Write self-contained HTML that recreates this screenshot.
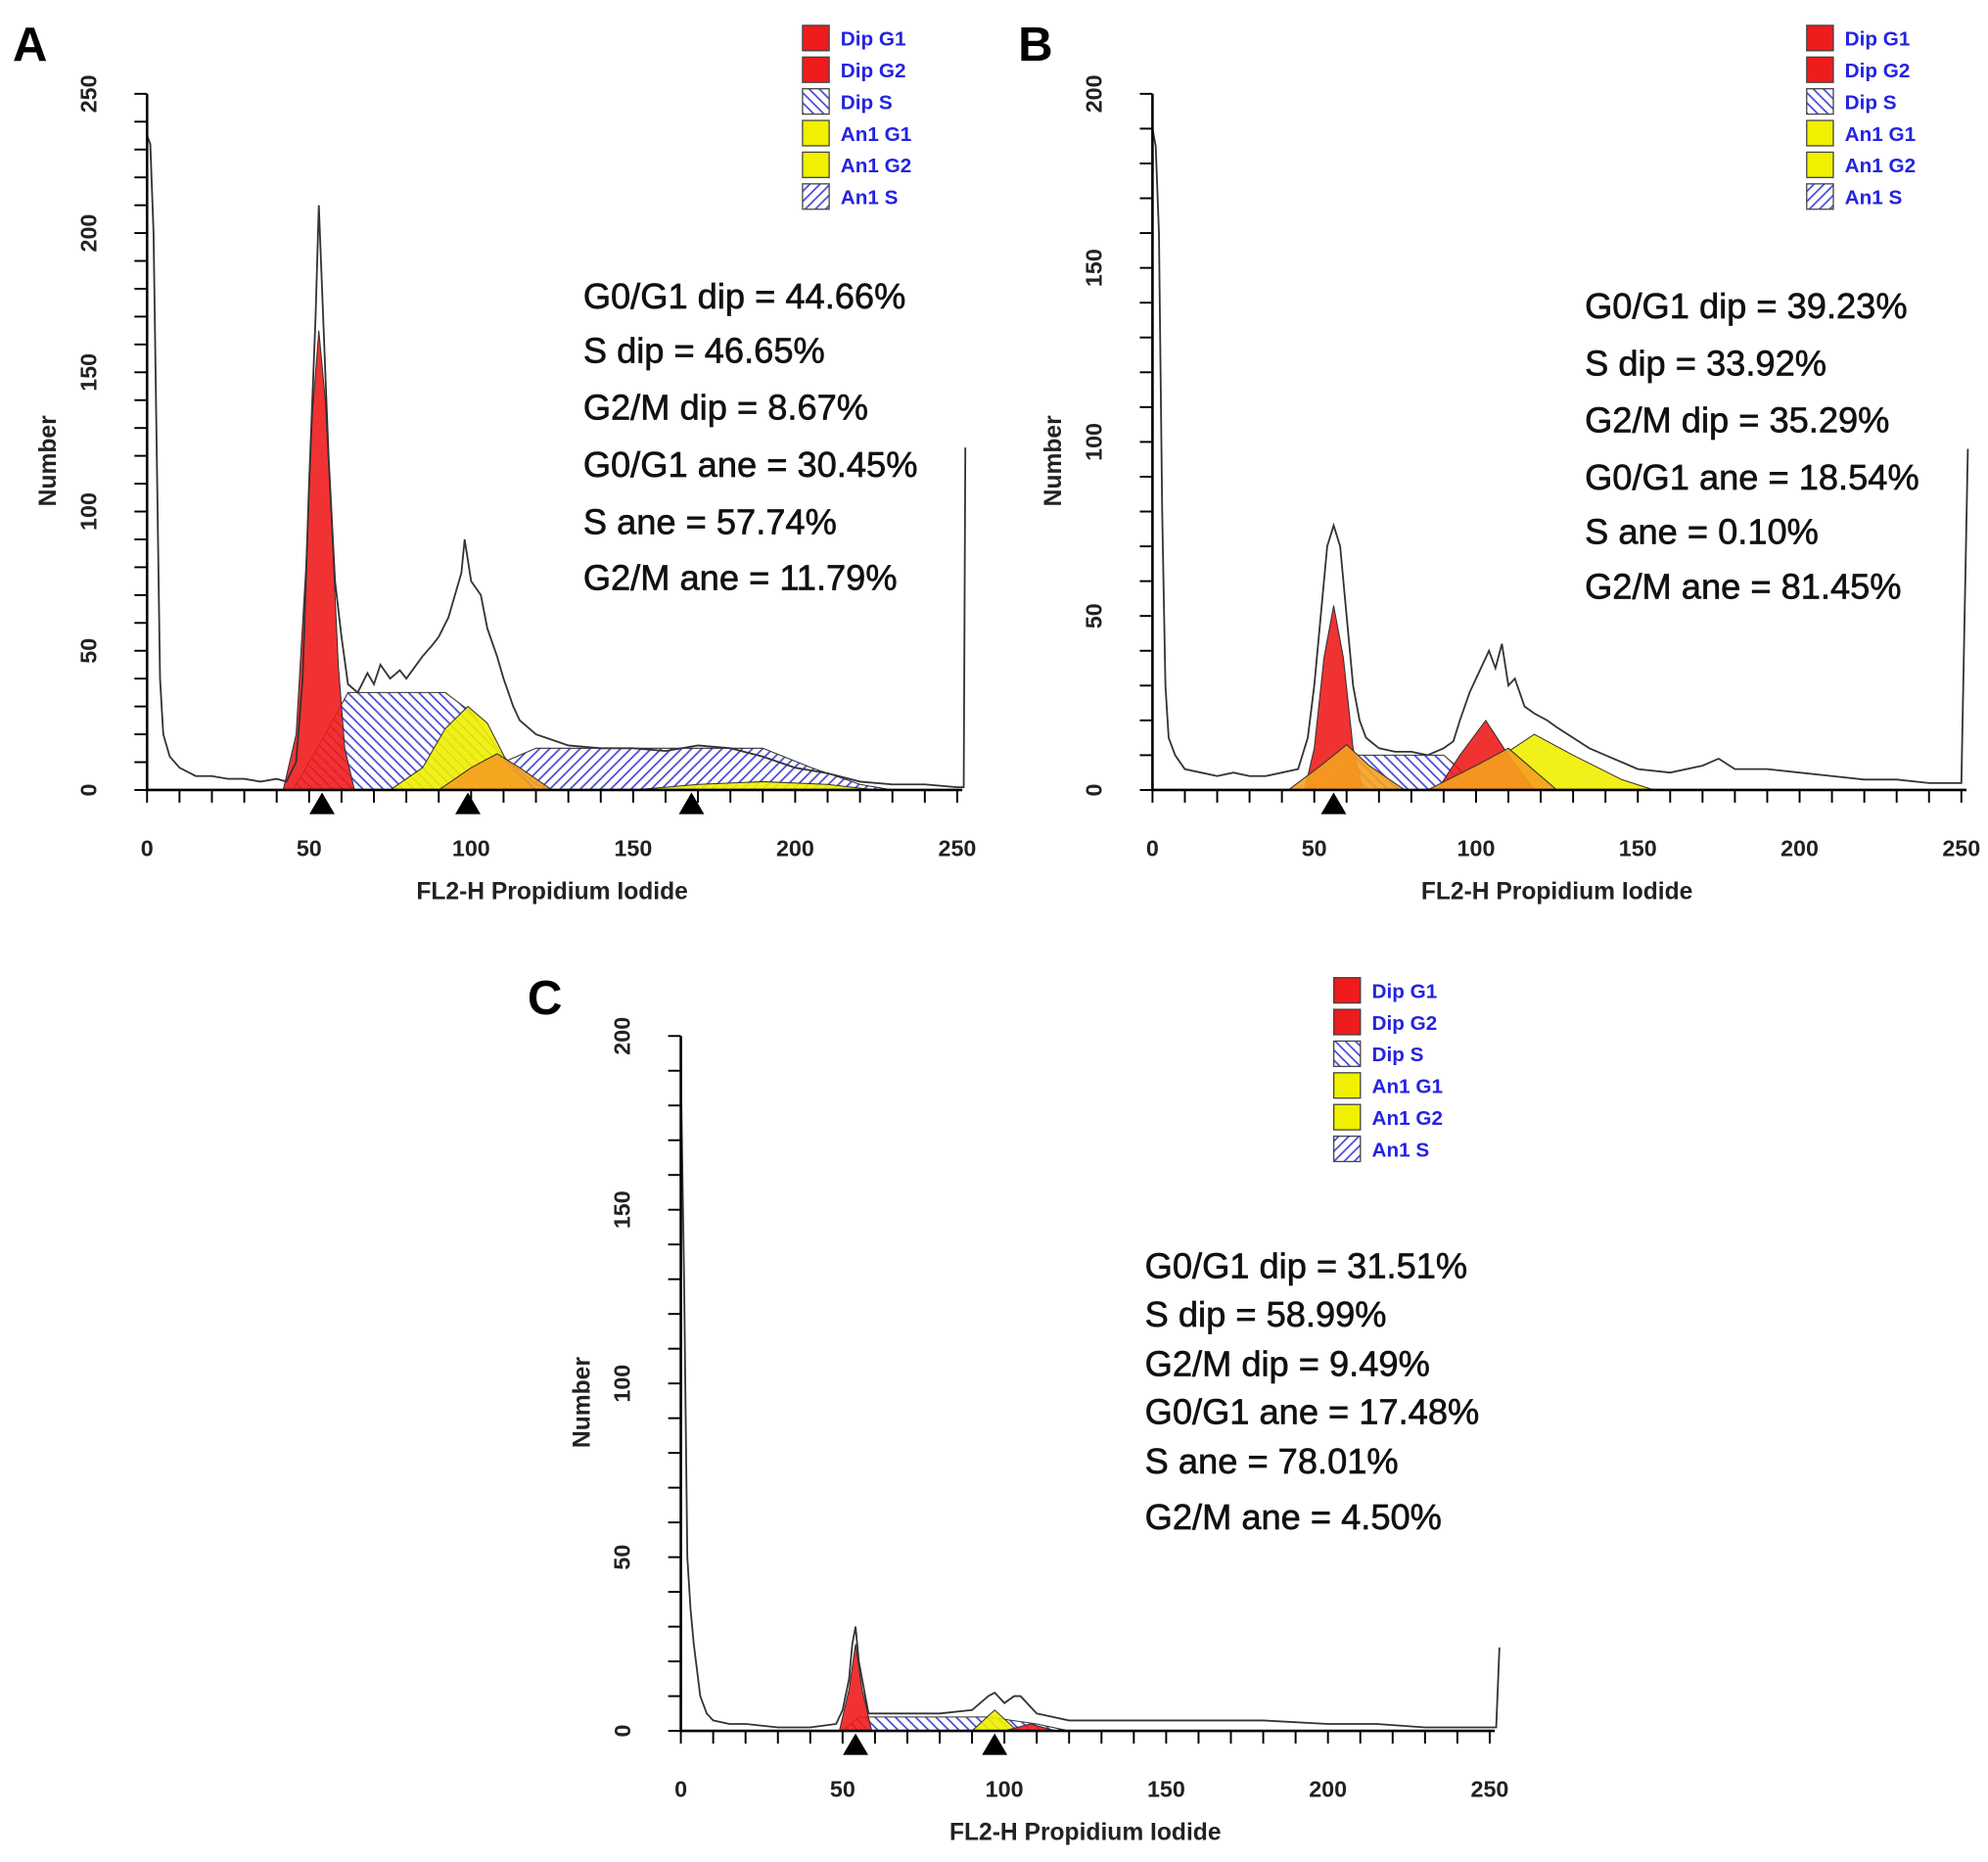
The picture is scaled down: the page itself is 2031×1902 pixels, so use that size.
<!DOCTYPE html>
<html><head><meta charset="utf-8">
<style>
html,body{margin:0;padding:0;background:#fff;}
svg{display:block;}
text{font-family:"Liberation Sans",sans-serif;}
</style></head>
<body>
<svg id="fig" width="2031" height="1902" viewBox="0 0 1568 1468.4" preserveAspectRatio="none" xmlns="http://www.w3.org/2000/svg">
<defs>
<pattern id="hatchBack" patternUnits="userSpaceOnUse" width="8" height="8">
<rect width="8" height="8" fill="#fff"/><path d="M-2,-2 L10,10 M-2,6 L2,10 M6,-2 L10,2" stroke="#4848d8" stroke-width="1.3"/></pattern>
<pattern id="hatchFwd" patternUnits="userSpaceOnUse" width="8" height="8">
<rect width="8" height="8" fill="#fff"/><path d="M-2,10 L10,-2 M-2,2 L2,-2 M6,10 L10,6" stroke="#4848d8" stroke-width="1.3"/></pattern>
</defs>
</svg>
<script>
// ---------- Panel A data ----------
const aChannels = [0,1,2,3,4,5,7,10,15,20,25,30,35,40,43,46,48,50,52,53,54,56,58,60,62,65,68,70,72,75,78,80,85,88,90,93,95,97,98,100,103,105,108,110,113,115,120,125,130,140,150,160,170,180,190,200,210,220,230,240,250,252,252.5];
const aCounts   = [235,232,200,120,40,20,12,8,5,5,4,4,3,4,3,10,40,110,170,210,180,120,75,55,38,35,42,38,45,40,43,40,48,52,55,62,70,78,90,75,70,58,48,40,30,25,20,18,16,15,15,14,16,15,12,8,6,3,2,2,1,1,123];
const aComponents = [
 {name:'an1-s',   fill:'url(#hatchFwd)', ch:[95,110,120,190,205,220,230], v:[0,10,15,15,8,2,0]},
 {name:'dip-s',   fill:'url(#hatchBack)', ch:[45,55,62,92,100,110,120,125], v:[0,20,35,35,28,12,2,0]},
 {name:'an1-g2',  fill:'#f0f000', ch:[150,170,190,210,225], v:[0,2,3,2,0]},
 {name:'an1-g1',  fill:'#f0f000', ch:[75,85,92,99,105,112,120], v:[0,8,22,30,24,8,0]},
 {name:'dip-g2',  fill:'#f5a020', ch:[90,100,108,115,125], v:[0,8,13,8,0]},
 {name:'dip-g1',  fill:'#ee1c1c', ch:[42,46,49,51,53,55,57,59,61,64], v:[0,20,80,135,165,140,95,45,15,0]}
];
const aMarkers = [54,99,168];
const aYTicks = [0,50,100,150,200,250];
const aStats = ['G0/G1 dip = 44.66%','S dip =  46.65%','G2/M dip = 8.67%','G0/G1 ane =  30.45%','S ane = 57.74%','G2/M ane =  11.79%'];

// ---------- Panel B data ----------
const bChannels = [0,1,2,3,4,5,7,10,15,20,25,30,35,40,45,48,50,52,54,56,58,60,62,64,66,70,75,80,85,90,93,95,98,100,102,104,106,108,110,112,115,118,122,125,130,135,140,145,150,160,170,175,180,190,200,210,220,230,240,250,252];
const bCounts   = [190,185,160,80,30,15,10,6,5,4,5,4,4,5,6,15,30,50,70,76,70,50,30,20,15,12,11,11,10,12,14,20,28,32,36,40,35,42,30,32,24,22,20,18,15,12,10,8,6,5,7,9,6,6,5,4,3,3,2,2,98];
const bComponents = [
 {name:'dip-s',   fill:'url(#hatchBack)', ch:[55,62,90,95,100], v:[0,10,10,6,0]},
 {name:'an1-g2',  fill:'#f0f000', ch:[95,105,118,130,145,155], v:[0,8,16,10,3,0]},
 {name:'dip-g2',  fill:'#ee1c1c', ch:[88,95,103,110,118], v:[0,10,20,10,0]},
 {name:'an1-g2-overlap', fill:'#f5a020', ch:[85,100,110,125], v:[0,7,12,0]},
 {name:'dip-g1',  fill:'#ee1c1c', ch:[47,50,53,56,59,62,65], v:[0,12,38,53,38,12,0]},
 {name:'an1-g1',  fill:'#f5a020', ch:[42,52,60,67,78], v:[0,7,13,7,0]}
];
const bMarkers = [56];
const bYTicks = [0,50,100,150,200];
const bStats = ['G0/G1 dip = 39.23%','S dip =  33.92%','G2/M dip = 35.29%','G0/G1 ane =  18.54%','S ane = 0.10%','G2/M ane = 81.45%'];

// ---------- Panel C data ----------
const cChannels = [0,1,2,3,4,6,8,10,15,20,30,40,48,50,52,53,54,55,56,58,60,70,80,90,95,97,100,103,105,108,110,115,120,130,150,165,180,200,215,230,250,252,253];
const cCounts   = [190,130,50,35,25,10,5,3,2,2,1,1,2,6,15,25,30,20,15,5,5,5,5,6,10,11,8,10,10,7,5,4,3,3,3,3,3,2,2,1,1,1,24];
const cComponents = [
 {name:'dip-s',   fill:'url(#hatchBack)', ch:[50,55,95,110,120], v:[0,4,4,2,0]},
 {name:'an1-g1',  fill:'#f0f000', ch:[90,97,104], v:[0,6,0]},
 {name:'dip-g2',  fill:'#ee1c1c', ch:[100,108,116], v:[0,2,0]},
 {name:'dip-g1',  fill:'#ee1c1c', ch:[49,52,54,56,59], v:[0,12,25,12,0]}
];
const cMarkers = [54,97];
const cYTicks = [0,50,100,150,200];
const cStats = ['G0/G1 dip = 31.51%','S dip =  58.99%','G2/M dip = 9.49%','G0/G1 ane =  17.48%','S ane = 78.01%','G2/M ane =  4.50%'];

const xTicks = [0,50,100,150,200,250];
const legendLabels = ['Dip G1','Dip G2','Dip S','An1 G1','An1 G2','An1 S'];

const NS='http://www.w3.org/2000/svg';
const svg=document.getElementById('fig');
function mk(tag,attrs,parent){const e=document.createElementNS(NS,tag);for(const k in attrs)e.setAttribute(k,attrs[k]);(parent||svg).appendChild(e);return e;}

function panel(cfg){
  const g=mk('g',{});
  
  
  const X=ch=>cfg.x0+ch/250*(cfg.x1-cfg.x0);
  const Y=v=>cfg.y0-v/cfg.ymax*(cfg.y0-cfg.yt);
  cfg.comps.forEach(c=>{
    let d='M'+X(c.ch[0])+','+Y(0);
    c.ch.forEach((ch,i)=>{d+=' L'+X(ch)+','+Y(c.v[i]);});
    d+=' L'+X(c.ch[c.ch.length-1])+','+Y(0)+'Z';
    const p=mk('path',{d:d,fill:c.fill,stroke:'#333','stroke-width':0.8,'fill-opacity':c.fill.startsWith('#')?0.9:1},g);
    
    
  });
  const pts=cfg.ch.map((ch,i)=>X(ch)+','+Y(cfg.counts[i])).join(' ');
  const h=mk('polyline',{points:pts,fill:'none',stroke:'#333','stroke-width':1.4},g);
  
  
  const ax=mk('path',{d:'M'+X(0)+','+cfg.yt+' L'+X(0)+','+cfg.y0+' L'+(X(250)+4)+','+cfg.y0,fill:'none',stroke:'#000','stroke-width':2},g);
  
  
  for(let t=0;t<=250;t+=10){
    const tk=mk('line',{x1:X(t),x2:X(t),y1:cfg.y0,y2:cfg.y0+10,stroke:'#000','stroke-width':1.5},g);
    
    
  }
  xTicks.forEach(t=>{
    const tl=mk('text',{x:X(t),y:cfg.y0+52,'font-size':18,'text-anchor':'middle','font-weight':'bold',fill:'#222'},g);
    tl.textContent=t;
    
    
  });
  for(let v=0;v<=cfg.ymax;v+=10){
    const tk=mk('line',{x1:X(0)-10,x2:X(0),y1:Y(v),y2:Y(v),stroke:'#000','stroke-width':1.5},g);
    
    
  }
  cfg.yt_.forEach(v=>{
    const tl=mk('text',{x:X(0)-40,y:Y(v),'font-size':18,'text-anchor':'middle','font-weight':'bold',fill:'#222',transform:'rotate(-90 '+(X(0)-40)+' '+Y(v)+')'},g);
    tl.textContent=v;
    
    
  });
  const yl=mk('text',{x:X(0)-72,y:(cfg.y0+cfg.yt)/2+15,'font-size':19,'text-anchor':'middle','font-weight':'bold',fill:'#222',transform:'rotate(-90 '+(X(0)-72)+' '+((cfg.y0+cfg.yt)/2+15)+')'},g);
  yl.textContent='Number';
  
  
  const xl=mk('text',{x:X(125),y:cfg.y0+86,'font-size':19,'text-anchor':'middle','font-weight':'bold',fill:'#222'},g);
  xl.textContent='FL2-H Propidium Iodide';
  
  
  cfg.markers.forEach(m=>{
    const tr=mk('path',{d:'M'+(X(m)-10)+','+(cfg.y0+19)+' L'+X(m)+','+(cfg.y0+2)+' L'+(X(m)+10)+','+(cfg.y0+19)+'Z',fill:'#000'},g);
    
    
  });
  const pl=mk('text',{x:cfg.lx,y:cfg.ly,'font-size':38,'font-weight':'bold',fill:'#000'},g);
  pl.textContent=cfg.id;
  
  
  const fills=['#ee1c1c','#ee1c1c','url(#hatchBack)','#f0f000','#f0f000','url(#hatchFwd)'];
  legendLabels.forEach((l,i)=>{
    const y=cfg.legY+i*25;
    const r=mk('rect',{x:cfg.legX,y:y-10,width:21,height:20,fill:fills[i],stroke:'#444','stroke-width':1},g);
    
    
    const t=mk('text',{x:cfg.legX+30,y:y+6,'font-size':16,'font-weight':'bold',fill:'#2424e0'},g);
    t.textContent=l;
    
    
  });
  cfg.stats.forEach((s,i)=>{
    const t=mk('text',{x:cfg.sx,y:cfg.sy[i]+10,'font-size':28,fill:'#111',stroke:'#111','stroke-width':0.5},g);
    t.textContent=s;
    
    
  });
}
panel({id:'A',x0:116,x1:755,y0:623,yt:74,ymax:250,ch:aChannels,counts:aCounts,comps:aComponents,markers:aMarkers,yt_:aYTicks,stats:aStats,lx:10,ly:48,legX:633,legY:30,sx:460,sy:[233,276,321,366,411,455]});
panel({id:'B',x0:909,x1:1547,y0:623,yt:74,ymax:200,ch:bChannels,counts:bCounts,comps:bComponents,markers:bMarkers,yt_:bYTicks,stats:bStats,lx:803,ly:48,legX:1425,legY:30,sx:1250,sy:[241,286,331,376,419,462]});
panel({id:'C',x0:537,x1:1175,y0:1365,yt:817,ymax:200,ch:cChannels,counts:cCounts,comps:cComponents,markers:cMarkers,yt_:cYTicks,stats:cStats,lx:416,ly:800,legX:1052,legY:781,sx:903,sy:[998,1036,1075,1113,1152,1196]});
</script>
</body></html>
